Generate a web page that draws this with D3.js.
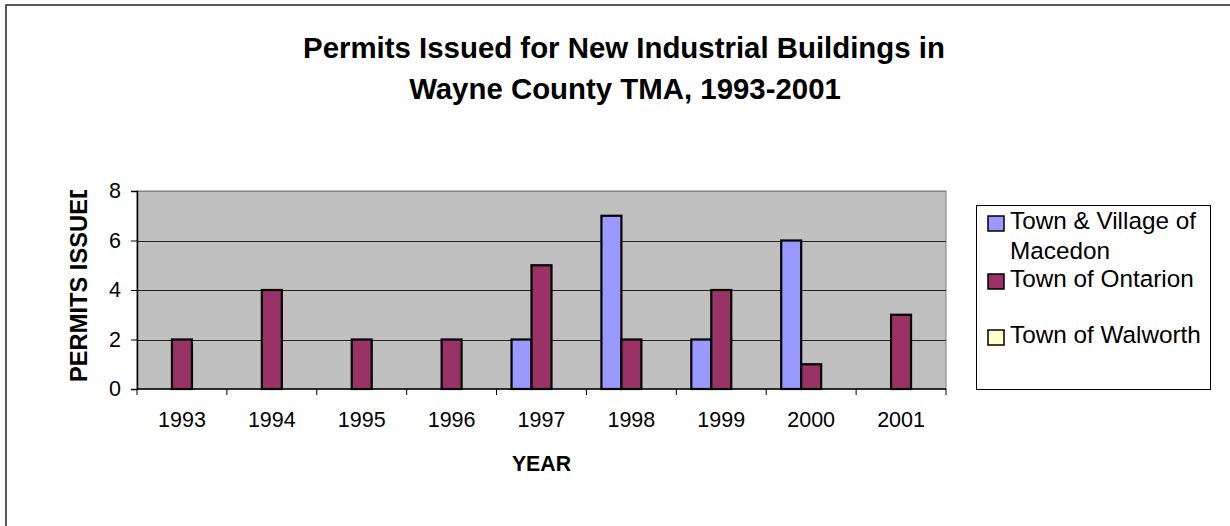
<!DOCTYPE html>
<html>
<head>
<meta charset="utf-8">
<script src="https://cdn.jsdelivr.net/npm/d3@7"></script>
<style>
  html, body { margin: 0; padding: 0; background: #fff; }
  svg { display: block; font-family: "Liberation Sans", Arial, sans-serif; }
</style>
</head>
<body>
<svg id="chart" width="1230" height="526"></svg>
<script>
const years = ["1993","1994","1995","1996","1997","1998","1999","2000","2001"];
const seriesNames = ["Town & Village of Macedon", "Town of Ontarion", "Town of Walworth"];
const macedon  = [0, 0, 0, 0, 2, 7, 2, 6, 0];
const ontarion = [2, 4, 2, 2, 5, 2, 4, 1, 3];
const walworth = [0, 0, 0, 0, 0, 0, 0, 0, 0];
const yTicks = [0, 2, 4, 6, 8];
const colors = ["#9999FF", "#993366", "#FFFFCC"];
const legendLines = [["Town & Village of", "Macedon"], ["Town of Ontarion"], ["Town of Walworth"]];

const seriesValues = [macedon, ontarion, walworth];
const svg = d3.select("#chart");

// outer chart border (extends beyond canvas on right/bottom)
svg.append("rect").attr("x", 6).attr("y", 5).attr("width", 1240).attr("height", 540)
  .attr("fill", "#fff").attr("stroke", "#222").attr("stroke-width", 1.5);

const L = 137, R = 946, T = 191, B = 389;
const x = d3.scaleBand().domain(years).range([L, R]).padding(0);
const bw = x.bandwidth();
const xs = d3.scaleBand().domain(seriesNames).range([bw / 6, bw * 5 / 6]).padding(0);
const y = d3.scaleLinear().domain([0, 8]).range([B, T]);

// plot area
svg.append("rect").attr("x", L).attr("y", T).attr("width", R - L).attr("height", B - T)
  .attr("fill", "#C0C0C0").attr("stroke", "#808080").attr("stroke-width", 1);

// gridlines
svg.append("g").selectAll("line").data(yTicks.filter(d => d > 0)).join("line")
  .attr("x1", L).attr("x2", R).attr("y1", d => Math.round(y(d)) + 0.5).attr("y2", d => Math.round(y(d)) + 0.5)
  .attr("stroke", d => d === 8 ? "#808080" : "#222").attr("stroke-width", 1);

// bars
const barData = [];
seriesValues.forEach((vals, si) => vals.forEach((v, i) => { if (v > 0) barData.push({ s: seriesNames[si], si, year: years[i], v }); }));
svg.append("g").selectAll("rect").data(barData).join("rect")
  .attr("x", d => x(d.year) + xs(d.s))
  .attr("y", d => y(d.v))
  .attr("width", xs.bandwidth())
  .attr("height", d => B - y(d.v))
  .attr("fill", d => colors[d.si])
  .attr("stroke", "#000").attr("stroke-width", 2.2);

// axes
const yAxis = d3.axisLeft(y).tickValues(yTicks).tickSize(6).tickPadding(10).tickFormat(d3.format("d"));
const gy = svg.append("g").attr("transform", `translate(${L},0)`).call(yAxis);
gy.select(".domain").attr("stroke", "#000").attr("stroke-width", 1.5);
gy.selectAll(".tick line").attr("stroke", "#000");
gy.selectAll("text").attr("font-size", 21.5).attr("fill", "#000").attr("font-family", "Liberation Sans, Arial, sans-serif");

// x axis line and ticks at category boundaries
svg.append("line").attr("x1", L).attr("x2", R).attr("y1", B).attr("y2", B).attr("stroke", "#000").attr("stroke-width", 1.5);
const boundaries = years.map(d => x(d)).concat([R]);
svg.append("g").selectAll("line").data(boundaries).join("line")
  .attr("x1", d => d).attr("x2", d => d).attr("y1", B).attr("y2", B + 6)
  .attr("stroke", "#000").attr("stroke-width", 1);
svg.append("g").selectAll("text").data(years).join("text")
  .attr("x", d => x(d) + bw / 2).attr("y", 427)
  .attr("text-anchor", "middle").attr("font-size", 21.5).attr("fill", "#000")
  .text(d => d);

// titles
const title = svg.append("text").attr("text-anchor", "middle").attr("font-weight", "bold")
  .attr("font-size", 29.4).attr("fill", "#000");
title.append("tspan").attr("x", 624).attr("y", 58).text("Permits Issued for New Industrial Buildings in");
title.append("tspan").attr("x", 625).attr("y", 99).text("Wayne County TMA, 1993-2001");

svg.append("text").attr("x", (L + R) / 2).attr("y", 471).attr("text-anchor", "middle")
  .attr("font-weight", "bold").attr("font-size", 21.3).attr("fill", "#000").text("YEAR");

// y axis title (clipped at top, as in original)
svg.append("clipPath").attr("id", "yclip").append("rect").attr("x", 0).attr("y", 190).attr("width", 130).attr("height", 300);
svg.append("g").attr("clip-path", "url(#yclip)")
  .append("text")
  .attr("transform", "translate(87,382) rotate(-90)")
  .attr("text-anchor", "start").attr("font-weight", "bold").attr("font-size", 23.7).attr("fill", "#000")
  .text("PERMITS ISSUED");

// legend
const lg = svg.append("g");
lg.append("rect").attr("x", 976.5).attr("y", 205.5).attr("width", 234).attr("height", 184)
  .attr("fill", "#fff").attr("stroke", "#000").attr("stroke-width", 1);
const swatchY = [216, 274, 330];
const baselines = [[228.5, 258.5], [287], [342.5]];
seriesNames.forEach((s, i) => {
  lg.append("rect").attr("x", 988).attr("y", swatchY[i]).attr("width", 16).attr("height", 15)
    .attr("fill", colors[i]).attr("stroke", "#000").attr("stroke-width", 1.5);
  legendLines[i].forEach((line, j) => {
    lg.append("text").attr("x", 1010).attr("y", baselines[i][j]).attr("font-size", 24.3).attr("fill", "#000").text(line);
  });
});
</script>
</body>
</html>
